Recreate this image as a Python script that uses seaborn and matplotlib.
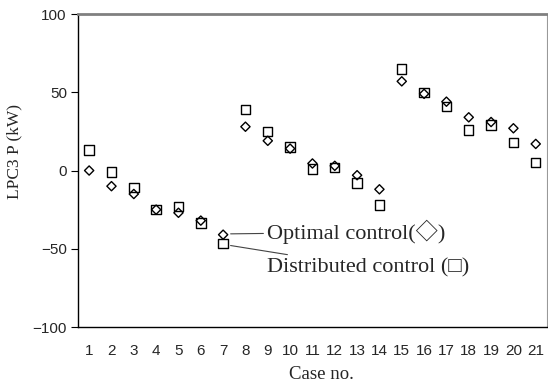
import numpy as np
import pandas as pd
import matplotlib
matplotlib.use("Agg")
import matplotlib.pyplot as plt
import seaborn as sns

# ---------------- DATA ----------------
cases = list(range(1, 22))
optimal = [0, -10, -15, -25, -27, -32, -41, 28, 19, 14, 4.5, 3, -3, -12, 57, 49, 44, 34, 31, 27, 17]
distributed = [13, -1, -11, -25, -23, -33.5, -46.5, 39, 25, 15, 1, 2, -8, -22, 65, 50, 41, 26, 29, 18, 5]
y_ticks = [-100, -50, 0, 50, 100]
y_ticklabels = ["\u2212100", "\u221250", "0", "50", "100"]

df = pd.DataFrame({
    "case": cases * 2,
    "P": optimal + distributed,
    "method": ["Optimal"] * len(cases) + ["Distributed"] * len(cases),
})

# ---------------- PLOT ----------------
sns.set_style("white")
serif = ["Liberation Serif", "Noto Sans CJK JP", "DejaVu Sans"]
narrow = ["Liberation Sans Narrow", "Liberation Sans", "DejaVu Sans"]

fig = plt.figure(figsize=(5.48, 3.9), dpi=100)
ax = fig.add_axes([0.1423, 0.1615, 0.8557, 0.8025])

sns.scatterplot(data=df[df.method == "Distributed"], x="case", y="P", marker="s",
                s=46, fc="none", ec="black", linewidth=1.0, ax=ax, legend=False)
sns.scatterplot(data=df[df.method == "Optimal"], x="case", y="P", marker="D",
                s=22, fc="none", ec="black", linewidth=1.0, ax=ax, legend=False)

ax.set_xlim(0.5, 21.5)
ax.set_ylim(-100, 100)

# x ticks: labels at cases, tick marks at boundaries (inward)
ax.set_xticks(cases)
ax.set_xticklabels([str(c) for c in cases], family=narrow, fontsize=11)
ax.set_xticks(np.arange(1.5, 21.5, 1), minor=True)
ax.tick_params(axis="x", which="major", length=0, pad=12)
ax.tick_params(axis="x", which="minor", direction="in", length=4, width=0.8, color="black")

ax.set_yticks(y_ticks)
ax.set_yticklabels(y_ticklabels, family=narrow, fontsize=11)
ax.tick_params(axis="y", direction="out", length=5, width=0.8, color="black", left=True, pad=3)

ax.set_xlabel("Case no.", family=serif, fontsize=13.5)
ax.xaxis.set_label_coords(0.52, -0.125)
ax.set_ylabel("LPC3 P (kW)", family=serif, fontsize=12.5)
ax.yaxis.set_label_coords(-0.118, 0.56)

for side in ["left", "bottom"]:
    ax.spines[side].set_color("black")
    ax.spines[side].set_linewidth(1.0)
ax.spines["top"].set_color("#808080")
ax.spines["top"].set_linewidth(2.0)
ax.spines["right"].set_color("#999999")
ax.spines["right"].set_linewidth(0.8)

ax.annotate("Optimal control(\u25c7)", xy=(7.15, optimal[6] + 0.5), xytext=(8.95, -39.5),
            family=serif, fontsize=16, va="center", ha="left",
            arrowprops=dict(arrowstyle="-", color="#444444", lw=0.8, shrinkA=0, shrinkB=3))
ax.annotate("Distributed control (\u25a1)", xy=(7.15, distributed[6] - 1), xytext=(8.95, -62),
            family=serif, fontsize=16, va="center", ha="left",
            arrowprops=dict(arrowstyle="-", color="#444444", lw=0.8, shrinkA=0, shrinkB=3))

fig.savefig("out.png", dpi=100)
